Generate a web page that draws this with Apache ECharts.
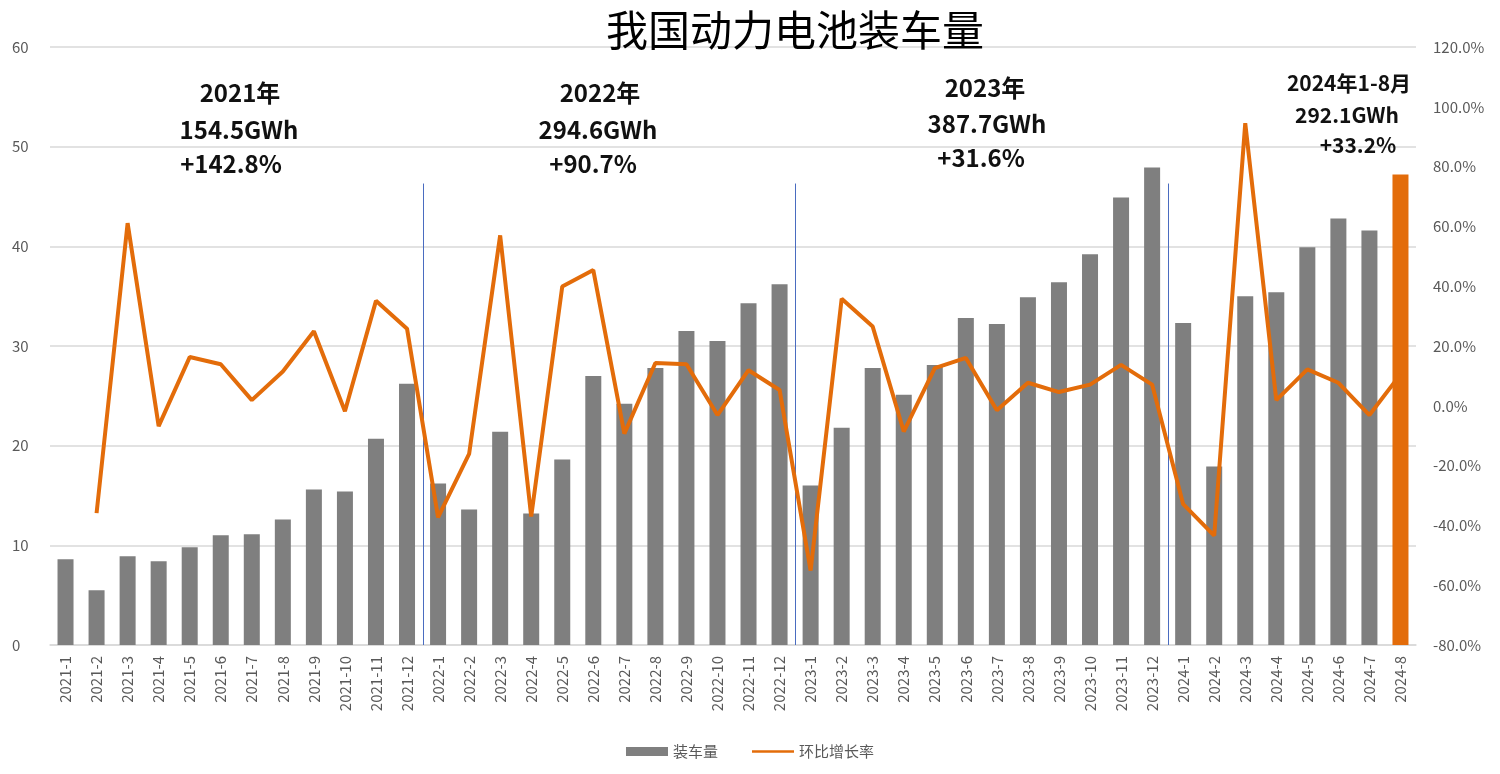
<!DOCTYPE html>
<html>
<head>
<meta charset="utf-8">
<script src="https://cdn.jsdelivr.net/npm/echarts@6/dist/echarts.min.js"></script>
<style>
  html, body { margin: 0; padding: 0; background: #fff; }
  #chart { width: 1500px; height: 774px; }
</style>
</head>
<body>
<div id="chart"></div>
<script>
// months 2021-1 .. 2024-8
const months = []
for (let y = 2021; y <= 2024; y++) {
  const last = y === 2024 ? 8 : 12
  for (let m = 1; m <= last; m++) months.push(y + '-' + m)
}

// 装车量 (GWh)
const volume2021 = [8.6, 5.5, 8.9, 8.4, 9.8, 11.0, 11.1, 12.6, 15.6, 15.4, 20.7, 26.2]
const volume2022 = [16.2, 13.6, 21.4, 13.2, 18.6, 27.0, 24.2, 27.8, 31.5, 30.5, 34.3, 36.2]
const volume2023 = [16.0, 21.8, 27.8, 25.1, 28.1, 32.8, 32.2, 34.9, 36.4, 39.2, 44.9, 47.9]
const volume2024 = [32.3, 17.9, 35.0, 35.4, 39.9, 42.8, 41.6, 47.2]

// 环比增长率 (%)
const mom2021 = [null, -35.9, 61.1, -6.8, 16.3, 13.9, 1.9, 11.5, 24.9, -1.8, 35.1, 25.8]
const mom2022 = [-37.3, -16.1, 57.0, -37.0, 39.9, 45.4, -9.3, 14.3, 13.9, -3.1, 11.9, 5.3]
const mom2023 = [-55.1, 35.8, 26.5, -8.6, 12.6, 16.0, -1.5, 7.7, 4.6, 7.1, 13.7, 7.1]
const mom2024 = [-32.9, -43.4, 94.5, 1.9, 12.2, 7.7, -3.1, 10.5]

const volume = volume2021.concat(volume2022, volume2023, volume2024)
const mom = mom2021.concat(mom2022, mom2023, mom2024)

const leftTicks = { min: 0, max: 60, interval: 10 }
const rightTicks = { min: -80, max: 120, interval: 20 }

// 年度汇总标注
const notes = [
  { lines: ['2021年', '154.5GWh', '+142.8%'], x: [240, 239, 231], y: [93, 130, 164], size: 24 },
  { lines: ['2022年', '294.6GWh', '+90.7%'], x: [600, 598, 593], y: [93, 130, 164], size: 24 },
  { lines: ['2023年', '387.7GWh', '+31.6%'], x: [985, 987, 981], y: [88, 124, 158], size: 24 },
  { lines: ['2024年1-8月', '292.1GWh', '+33.2%'], x: [1349, 1347, 1358], y: [83, 115, 145], size: 21 }
]
// 年份分隔线 (between these categories)
const dividers = [['2021-12', '2022-1'], ['2022-12', '2023-1'], ['2023-12', '2024-1']]
const dividerTop = 46.3

const grey = '#7f7f7f'
const orange = '#e36c0a'
const labelColor = '#595959'
const font = 'Noto Sans CJK SC'

const myChart = echarts.init(document.getElementById('chart'))

const barData = volume.map(function (v, i) {
  if (i === volume.length - 1) return { value: v, itemStyle: { color: orange } }
  return v
})

const noteGraphics = []
notes.forEach(function (n, k) {
  n.lines.forEach(function (t, j) {
    noteGraphics.push({
      type: 'text',
      id: 'note' + k + '_' + j,
      x: n.x[j],
      y: n.y[j],
      style: {
        text: t,
        fill: '#111',
        font: 'bold ' + n.size + 'px "' + font + '"',
        textAlign: 'center',
        textVerticalAlign: 'middle'
      },
      z: 10
    })
  })
})

const option = {
  animation: false,
  textStyle: { fontFamily: font },
  title: {
    text: '我国动力电池装车量',
    left: 790,
    top: 4,
    textAlign: 'center',
    textStyle: { fontSize: 42, fontWeight: 'normal', color: '#000', fontFamily: font }
  },
  legend: {
    data: [
      { name: '装车量', icon: 'rect' },
      { name: '环比增长率', icon: 'path://M0,0 L46,0 L46,3 L0,3 Z' }
    ],
    bottom: 10,
    left: 'center',
    itemWidth: 42,
    itemHeight: 9,
    itemGap: 34,
    textStyle: { fontSize: 15, color: labelColor }
  },
  grid: { left: 50, right: 84, top: 47, bottom: 129 },
  xAxis: {
    type: 'category',
    data: months,
    axisTick: { show: false },
    axisLine: { lineStyle: { color: '#d9d9d9', width: 1.5 } },
    axisLabel: { rotate: 90, interval: 0, color: labelColor, fontSize: 15, margin: 11 }
  },
  yAxis: [
    {
      type: 'value',
      min: leftTicks.min,
      max: leftTicks.max,
      interval: leftTicks.interval,
      axisLine: { show: false },
      axisTick: { show: false },
      splitLine: { lineStyle: { color: '#d9d9d9', width: 1.5 } },
      axisLabel: { color: labelColor, fontSize: 15, align: 'left', margin: 38 }
    },
    {
      type: 'value',
      min: rightTicks.min,
      max: rightTicks.max,
      interval: rightTicks.interval,
      axisLine: { show: false },
      axisTick: { show: false },
      splitLine: { show: false },
      axisLabel: {
        color: labelColor,
        fontSize: 15,
        margin: 17,
        formatter: function (v) { return v.toFixed(1) + '%' }
      }
    }
  ],
  series: [
    {
      name: '装车量',
      type: 'bar',
      data: barData,
      barWidth: 16,
      itemStyle: { color: grey }
    },
    {
      name: '环比增长率',
      type: 'line',
      yAxisIndex: 1,
      data: mom,
      showSymbol: false,
      symbol: 'none',
      lineStyle: { color: orange, width: 4 },
      itemStyle: { color: orange },
      z: 5
    }
  ],
  graphic: noteGraphics
}

myChart.setOption(option)

// 分隔线位置由坐标轴换算
const lineGraphics = dividers.map(function (pair, k) {
  const x1 = myChart.convertToPixel({ xAxisIndex: 0 }, pair[0])
  const x2 = myChart.convertToPixel({ xAxisIndex: 0 }, pair[1])
  const yTop = myChart.convertToPixel({ yAxisIndex: 0 }, dividerTop)
  const yBottom = myChart.convertToPixel({ yAxisIndex: 0 }, 0)
  const x = Math.round((x1 + x2) / 2) + 0.5
  return {
    type: 'line',
    id: 'divider' + k,
    shape: { x1: x, y1: yTop, x2: x, y2: yBottom },
    style: { stroke: '#4a6cc0', lineWidth: 1 },
    z: 3
  }
})
myChart.setOption({ graphic: lineGraphics })

window.addEventListener('resize', function () {
  myChart.resize()
})
</script>
</body>
</html>
